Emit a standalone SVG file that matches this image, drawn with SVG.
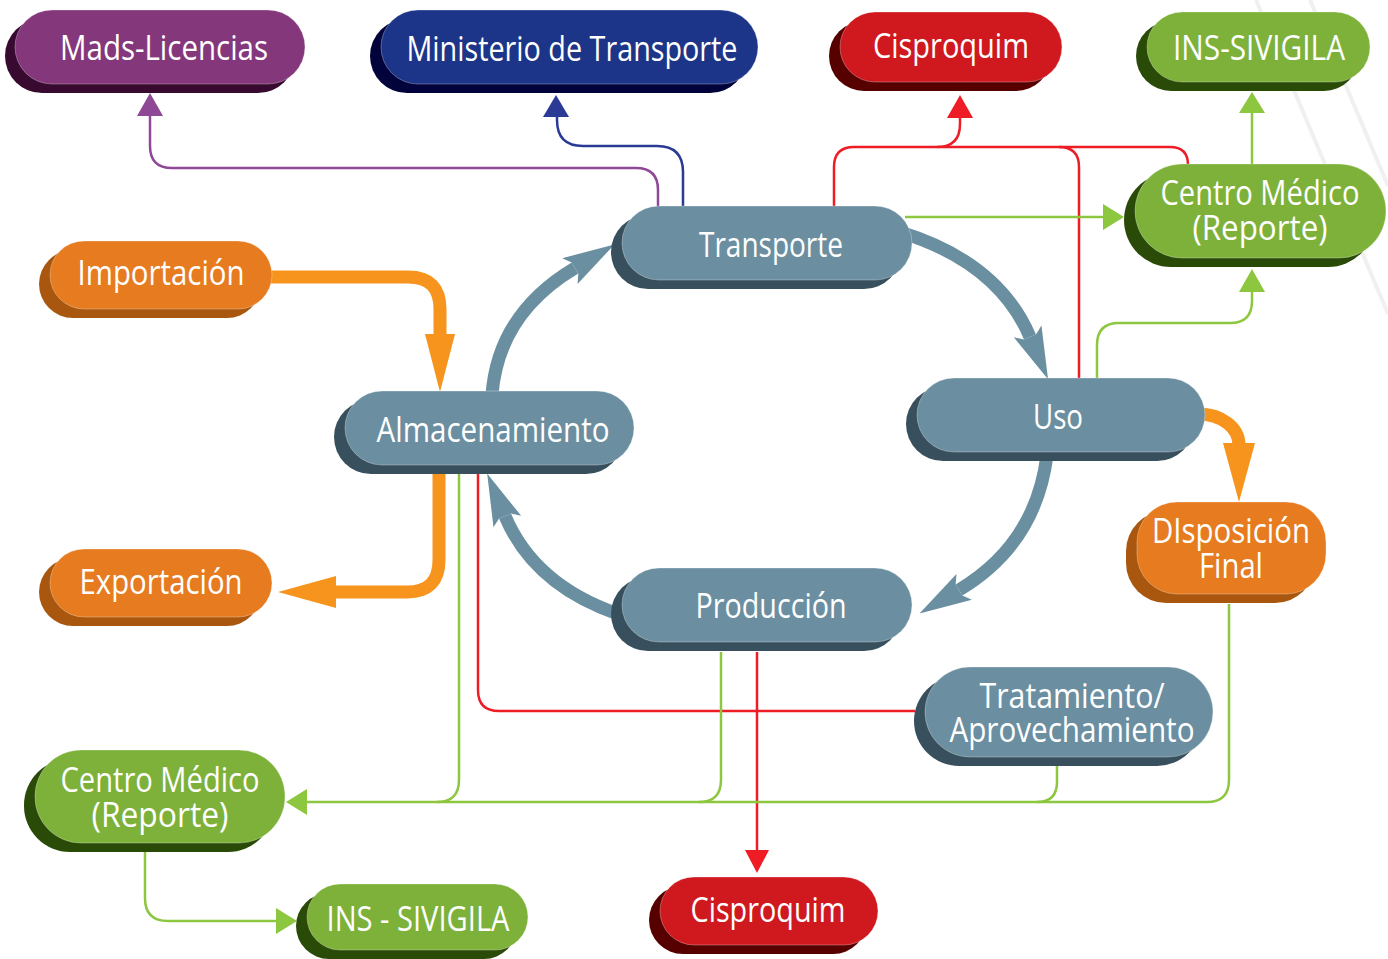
<svg xmlns="http://www.w3.org/2000/svg" width="1388" height="959" viewBox="0 0 1388 959">
<defs>
<style>
.t{font-family:"Open Sans","Noto Sans",sans-serif;font-size:34px;fill:#ffffff;text-anchor:middle}
.fr{stroke:#ffffff;stroke-opacity:0.3;stroke-width:1}
.purple .sh{fill:#380a30}.purple .fr{fill:#84377b}
.blue .sh{fill:#03033b}.blue .fr{fill:#1d3588}
.red .sh{fill:#570000}.red .fr{fill:#d0191f}
.green .sh{fill:#2a4a08}.green .fr{fill:#7db13a}
.orange .sh{fill:#a9570f}.orange .fr{fill:#e67b1f}
.grey .sh{fill:#38505d}.grey .fr{fill:#6b8fa1}
.thin{fill:none;stroke-width:2.5}
.cp{stroke:#8e4896}.cb{stroke:#2b3a94}.cr{stroke:#ee1c25}.cg{stroke:#8dc63f}
.ap{fill:#8e4896}.ab{fill:#2b3a94}.ar{fill:#ee1c25}.ag{fill:#8dc63f}
.or{fill:none;stroke:#f7941d;stroke-width:13}
.ao{fill:#f7941d}
.cyc{fill:none;stroke:#6a8fa0;stroke-width:13;marker-end:url(#cycHead)}
.bg{stroke:#f0f0f0;stroke-width:4;fill:none}
</style>
<marker id="cycHead" markerUnits="userSpaceOnUse" viewBox="-10 -20 60 40" markerWidth="60" markerHeight="40" refX="0" refY="0" orient="auto" overflow="visible">
<path d="M46,0 L-6,-15 L0,-6.5 L0,6.5 L-6,15 Z" fill="#6a8fa0"/>
</marker>
</defs>
<rect x="0" y="0" width="1388" height="959" fill="#ffffff"/>
<g id="background">
<line class="bg" x1="1256" y1="0" x2="1388" y2="314"/>
<line class="bg" x1="1310" y1="0" x2="1388" y2="186"/>
</g>

<g id="connectors">
<!-- purple: Transporte -> Mads-Licencias -->
<path class="thin cp" d="M658,207 V190 Q658,168 636,168 H172 Q150,168 150,146 V115"/>
<polygon class="ap" points="150,93 137,116 163,116"/>
<!-- blue: Transporte -> Ministerio -->
<path class="thin cb" d="M683,207 V172 Q683,146 657,146 H583 Q557,146 557,120 V116"/>
<polygon class="ab" points="556,95 543,117 569,117"/>
<!-- red top -->
<path class="thin cr" d="M834,207 V167 Q834,147 854,147 H1170 Q1188,147 1188,165"/>
<path class="thin cr" d="M937,147 Q960,147 960,124 V117"/>
<polygon class="ar" points="960,95 947,118 973,118"/>
<path class="thin cr" d="M1079,378 V167 Q1079,147 1059,147"/>
<!-- red bottom -->
<path class="thin cr" d="M478,474 V690 Q478,711 499,711 H915"/>
<path class="thin cr" d="M757,652 V851"/>
<polygon class="ar" points="757,873 745,850 769,850"/>
<!-- green top -->
<path class="thin cg" d="M905,217 H1104"/>
<polygon class="ag" points="1124,217 1103,204 1103,230"/>
<path class="thin cg" d="M1252,164 V112"/>
<polygon class="ag" points="1252,92 1239,113 1265,113"/>
<path class="thin cg" d="M1097,378 V345 Q1097,323 1119,323 H1230 Q1252,323 1252,301 V291"/>
<polygon class="ag" points="1252,269 1239,292 1265,292"/>
<!-- green bottom -->
<path class="thin cg" d="M1229,604 V780 Q1229,802 1207,802 H306"/>
<polygon class="ag" points="286,802 307,789 307,815"/>
<path class="thin cg" d="M459,474 V780 Q459,802 437,802"/>
<path class="thin cg" d="M721,652 V780 Q721,802 699,802"/>
<path class="thin cg" d="M1057,766 V782 Q1057,802 1037,802"/>
<path class="thin cg" d="M145,852 V898 Q145,921 168,921 H277"/>
<polygon class="ag" points="297,921 276,908 276,934"/>
<!-- orange -->
<path class="or" d="M262,277 H408 Q440,277 440,309 V336"/>
<polygon class="ao" points="440,392 425,334 455,334"/>
<path class="or" d="M439,470 V560 Q439,592 407,592 H334"/>
<polygon class="ao" points="278,592 336,576 336,608"/>
<path class="or" d="M1198,414 C1222,414 1239,428 1239,445"/>
<polygon class="ao" points="1239,502 1223,443 1255,443"/>
<!-- cycle -->
<path class="cyc" d="M492,395 Q498,314 575,268"/>
<path class="cyc" d="M900,232 Q998,262 1030,337"/>
<path class="cyc" d="M1047,455 Q1036,544 959,590"/>
<path class="cyc" d="M618,614 Q534,585 505,516"/>
</g>

<g id="mads" class="purple">
<rect class="sh" x="5" y="19" width="290" height="74" rx="37"/>
<rect class="fr" x="15" y="10" width="290" height="74" rx="37"/>
<text class="t" x="164" y="60" textLength="208" lengthAdjust="spacingAndGlyphs">Mads-Licencias</text>
</g>
<g id="ministerio" class="blue">
<rect class="sh" x="370" y="19" width="377" height="74" rx="37"/>
<rect class="fr" x="381" y="10" width="377" height="74" rx="37"/>
<text class="t" x="572" y="61" textLength="331" lengthAdjust="spacingAndGlyphs">Ministerio de Transporte</text>
</g>
<g id="cisproquim-top" class="red">
<rect class="sh" x="829" y="21" width="222" height="70" rx="35"/>
<rect class="fr" x="840" y="12" width="222" height="70" rx="35"/>
<text class="t" x="951" y="58" textLength="156" lengthAdjust="spacingAndGlyphs">Cisproquim</text>
</g>
<g id="ins-top" class="green">
<rect class="sh" x="1136" y="21" width="223" height="70" rx="35"/>
<rect class="fr" x="1147" y="12" width="223" height="70" rx="35"/>
<text class="t" x="1259" y="60" textLength="172" lengthAdjust="spacingAndGlyphs">INS-SIVIGILA</text>
</g>
<g id="centro-right" class="green">
<rect class="sh" x="1124" y="173" width="251" height="94" rx="47"/>
<rect class="fr" x="1135" y="164" width="251" height="94" rx="47"/>
<text class="t" x="1260" y="205" textLength="199" lengthAdjust="spacingAndGlyphs">Centro Médico</text>
<text class="t" x="1260" y="240" textLength="135" lengthAdjust="spacingAndGlyphs">(Reporte)</text>
</g>
<g id="importacion" class="orange">
<rect class="sh" x="39" y="250" width="222" height="68" rx="34"/>
<rect class="fr" x="50" y="241" width="222" height="68" rx="34"/>
<text class="t" x="161" y="285" textLength="167" lengthAdjust="spacingAndGlyphs">Importación</text>
</g>
<g id="transporte" class="grey">
<rect class="sh" x="611" y="215" width="290" height="74" rx="37"/>
<rect class="fr" x="622" y="206" width="290" height="74" rx="37"/>
<text class="t" x="771" y="257" textLength="144" lengthAdjust="spacingAndGlyphs">Transporte</text>
</g>
<g id="almacenamiento" class="grey">
<rect class="sh" x="334" y="400" width="289" height="74" rx="37"/>
<rect class="fr" x="345" y="391" width="289" height="74" rx="37"/>
<text class="t" x="493" y="442" textLength="233" lengthAdjust="spacingAndGlyphs">Almacenamiento</text>
</g>
<g id="uso" class="grey">
<rect class="sh" x="906" y="387" width="288" height="74" rx="37"/>
<rect class="fr" x="917" y="378" width="288" height="74" rx="37"/>
<text class="t" x="1058" y="429" textLength="50" lengthAdjust="spacingAndGlyphs">Uso</text>
</g>
<g id="exportacion" class="orange">
<rect class="sh" x="39" y="558" width="222" height="68" rx="34"/>
<rect class="fr" x="50" y="549" width="222" height="68" rx="34"/>
<text class="t" x="161" y="594" textLength="163" lengthAdjust="spacingAndGlyphs">Exportación</text>
</g>
<g id="produccion" class="grey">
<rect class="sh" x="611" y="577" width="290" height="74" rx="37"/>
<rect class="fr" x="622" y="568" width="290" height="74" rx="37"/>
<text class="t" x="771" y="618" textLength="151" lengthAdjust="spacingAndGlyphs">Producción</text>
</g>
<g id="disposicion" class="orange">
<rect class="sh" x="1126" y="511" width="189" height="92" rx="40"/>
<rect class="fr" x="1137" y="502" width="189" height="92" rx="40"/>
<text class="t" x="1231" y="543" textLength="158" lengthAdjust="spacingAndGlyphs">DIsposición</text>
<text class="t" x="1231" y="578" textLength="64" lengthAdjust="spacingAndGlyphs">Final</text>
</g>
<g id="tratamiento" class="grey">
<rect class="sh" x="914" y="676" width="288" height="90" rx="45"/>
<rect class="fr" x="925" y="667" width="288" height="90" rx="45"/>
<text class="t" x="1072" y="708" textLength="185" lengthAdjust="spacingAndGlyphs">Tratamiento/</text>
<text class="t" x="1072" y="742" textLength="245" lengthAdjust="spacingAndGlyphs">Aprovechamiento</text>
</g>
<g id="centro-left" class="green">
<rect class="sh" x="24" y="759" width="250" height="93" rx="46"/>
<rect class="fr" x="35" y="750" width="250" height="93" rx="46"/>
<text class="t" x="160" y="792" textLength="199" lengthAdjust="spacingAndGlyphs">Centro Médico</text>
<text class="t" x="160" y="827" textLength="137" lengthAdjust="spacingAndGlyphs">(Reporte)</text>
</g>
<g id="ins-bottom" class="green">
<rect class="sh" x="296" y="893" width="221" height="66" rx="33"/>
<rect class="fr" x="307" y="884" width="221" height="66" rx="33"/>
<text class="t" x="418" y="931" textLength="183" lengthAdjust="spacingAndGlyphs">INS - SIVIGILA</text>
</g>
<g id="cisproquim-bottom" class="red">
<rect class="sh" x="649" y="886" width="218" height="68" rx="34"/>
<rect class="fr" x="660" y="877" width="218" height="68" rx="34"/>
<text class="t" x="768" y="922" textLength="155" lengthAdjust="spacingAndGlyphs">Cisproquim</text>
</g>
</svg>
